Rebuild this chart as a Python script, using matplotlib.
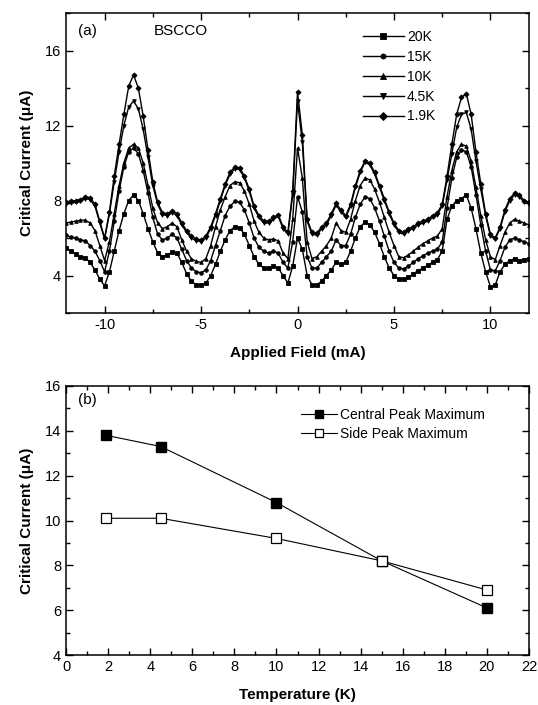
import numpy as np
import matplotlib
matplotlib.use("Agg")
import matplotlib.pyplot as plt
from matplotlib.ticker import MultipleLocator

plt.rcParams['font.family'] = ['Liberation Sans', 'DejaVu Sans']
plt.rcParams['axes.unicode_minus'] = False

# --- panel (a): critical current vs applied field ---
field = np.arange(-12, 12.001, 0.25)

ic_1p9K = [7.9, 7.95, 8.0, 8.05, 8.2, 8.15, 7.8, 6.9,
           6.0, 7.4, 9.3, 11.0, 12.6, 14.1, 14.7, 14.0,
           12.5, 10.7, 9.0, 7.9, 7.35, 7.3, 7.45, 7.3,
           6.8, 6.4, 6.1, 5.95, 5.9, 6.1, 6.6, 7.3,
           8.1, 8.9, 9.5, 9.8, 9.75, 9.3, 8.6, 7.7,
           7.2, 6.9, 6.9, 7.1, 7.25, 6.6, 6.3, 8.5,
           13.8, 11.5, 7.0, 6.3, 6.25, 6.6, 6.8, 7.3,
           7.85, 7.5, 7.2, 7.8, 8.8, 9.6, 10.1, 10.0,
           9.5, 8.8, 8.1, 7.4, 6.8, 6.4, 6.3, 6.5,
           6.6, 6.8, 6.9, 7.0, 7.2, 7.35, 7.8, 9.3,
           11.0, 12.6, 13.5, 13.7, 12.6, 10.6, 8.9, 7.3,
           6.2, 6.0, 6.6, 7.5, 8.1, 8.4, 8.3, 8.0,
           7.9]

ic_4p5K = [7.8, 7.85, 7.9, 7.95, 8.1, 8.05, 7.7, 6.8,
           5.95, 7.3, 9.0, 10.6, 12.0, 13.0, 13.3, 12.9,
           11.8, 10.3, 8.8, 7.8, 7.25, 7.2, 7.35, 7.2,
           6.7, 6.3, 6.0, 5.85, 5.8, 6.0, 6.5, 7.2,
           8.0, 8.8, 9.4, 9.7, 9.65, 9.2, 8.5, 7.6,
           7.1, 6.8, 6.8, 7.0, 7.15, 6.5, 6.2, 8.3,
           13.3, 11.1, 6.9, 6.2, 6.15, 6.5, 6.7, 7.2,
           7.75, 7.4, 7.1, 7.7, 8.7, 9.5, 10.05, 9.9,
           9.4, 8.7, 8.0, 7.3, 6.7, 6.3, 6.2, 6.4,
           6.5, 6.7, 6.8, 6.9, 7.1, 7.25, 7.7, 9.1,
           10.5, 11.9, 12.6, 12.7, 11.8, 10.1, 8.6, 7.2,
           6.1, 5.95, 6.5, 7.4, 8.0, 8.3, 8.2, 7.9,
           7.8]

ic_10K = [6.8, 6.85, 6.9, 6.95, 6.95, 6.8, 6.4, 5.6,
          4.8, 5.8, 7.3, 8.8, 10.0, 10.8, 11.0, 10.8,
          10.0, 8.8, 7.6, 6.8, 6.5, 6.6, 6.8, 6.6,
          5.9, 5.3, 4.9, 4.75, 4.7, 4.9, 5.6, 6.6,
          7.5, 8.2, 8.8, 9.0, 8.95, 8.5, 7.8, 6.9,
          6.3, 6.0, 5.9, 5.95, 5.85, 5.2, 4.9, 7.0,
          10.8, 9.2, 5.8, 4.9, 5.0, 5.3, 5.6, 6.0,
          6.8, 6.4, 6.3, 7.0, 8.0, 8.8, 9.2, 9.1,
          8.6, 7.9, 7.1, 6.3, 5.6, 5.0, 4.95, 5.1,
          5.3, 5.5, 5.7, 5.85, 6.0, 6.1, 6.5, 8.2,
          9.6, 10.6, 11.0, 10.9, 10.1, 8.7, 7.2, 5.9,
          5.0, 4.85, 5.6, 6.3, 6.8, 7.0, 6.9, 6.8,
          6.7]

ic_15K = [6.15, 6.05, 6.0, 5.9, 5.85, 5.6, 5.3, 4.8,
          4.2, 5.3, 6.9, 8.5, 9.8, 10.6, 10.8, 10.5,
          9.6, 8.4, 7.1, 6.2, 5.9, 6.0, 6.2, 6.0,
          5.4, 4.8, 4.4, 4.2, 4.15, 4.3, 4.8, 5.6,
          6.4, 7.2, 7.7, 7.95, 7.9, 7.5, 6.8, 6.0,
          5.5, 5.3, 5.2, 5.3, 5.2, 4.7, 4.4, 5.8,
          8.2, 7.4, 5.0, 4.4, 4.4, 4.7, 5.0, 5.3,
          5.9, 5.6, 5.6, 6.2, 7.1, 7.8, 8.2, 8.1,
          7.6, 6.9, 6.1, 5.3, 4.7, 4.4, 4.35, 4.5,
          4.7, 4.9, 5.05, 5.2, 5.3, 5.4, 5.8, 7.6,
          9.2, 10.3, 10.7, 10.6, 9.8, 8.3, 6.7, 5.3,
          4.3, 4.25, 4.8, 5.5, 5.9, 6.0, 5.9, 5.8,
          5.7]

ic_20K = [5.45, 5.3, 5.15, 5.0, 4.95, 4.7, 4.3, 3.8,
          3.45, 4.2, 5.3, 6.4, 7.3, 8.0, 8.3, 8.0,
          7.3, 6.5, 5.8, 5.2, 5.0, 5.1, 5.25, 5.2,
          4.7, 4.1, 3.7, 3.5, 3.5, 3.6, 4.0, 4.6,
          5.3, 5.9, 6.4, 6.6, 6.55, 6.2, 5.6, 5.0,
          4.6, 4.4, 4.4, 4.5, 4.4, 4.0, 3.6, 4.5,
          6.0, 5.4, 4.0, 3.5, 3.5, 3.7, 4.0, 4.3,
          4.7, 4.6, 4.7, 5.3, 6.0, 6.6, 6.85, 6.7,
          6.3, 5.7, 5.0, 4.4, 4.0, 3.8, 3.8, 3.9,
          4.1, 4.25, 4.4, 4.55, 4.7, 4.85, 5.3, 7.0,
          7.7, 8.0, 8.1, 8.3, 7.6, 6.5, 5.2, 4.2,
          3.4, 3.5, 4.2, 4.6, 4.8, 4.9, 4.8, 4.85,
          4.9]

curve_labels = ['20K', '15K', '10K', '4.5K', '1.9K']
curve_markers = ['s', 'o', '^', 'v', 'D']
curves = [ic_20K, ic_15K, ic_10K, ic_4p5K, ic_1p9K]

# --- panel (b): peak maxima vs temperature ---
temps = [1.9, 4.5, 10, 15, 20]
central_max = [13.8, 13.3, 10.8, 8.2, 6.1]
side_max = [10.1, 10.1, 9.2, 8.2, 6.9]

fig = plt.figure(figsize=(5.38, 7.05), dpi=100)
ax1 = fig.add_axes([0.1227, 0.556, 0.8606, 0.4255])
ax2 = fig.add_axes([0.1227, 0.0709, 0.8606, 0.3816])

for vals, lab, mk in zip(curves, curve_labels, curve_markers):
    ax1.plot(field, vals, color='black', lw=1.0, marker=mk, ms=2.6,
             mew=0.6, label=lab)

ax1.set_xlim(-12, 12)
ax1.set_ylim(2, 18)
ax1.xaxis.set_major_locator(MultipleLocator(5))
ax1.xaxis.set_minor_locator(MultipleLocator(2.5))
ax1.yaxis.set_major_locator(MultipleLocator(4))
ax1.yaxis.set_minor_locator(MultipleLocator(2))
ax1.set_xlabel('Applied Field (mA)', fontsize=11, fontweight='bold', labelpad=10)
ax1.set_ylabel('Critical Current (\u03bcA)', fontsize=11, fontweight='bold', labelpad=8)
ax1.text(0.025, 0.965, '(a)', transform=ax1.transAxes, fontsize=11, va='top')
ax1.text(0.19, 0.965, 'BSCCO', transform=ax1.transAxes, fontsize=11, va='top')
ax1.legend(loc='upper left', bbox_to_anchor=(0.615, 0.985), frameon=False,
           fontsize=10, handlelength=2.9, handletextpad=0.25,
           labelspacing=0.42, markerscale=1.4)

ax2.plot(temps, central_max, color='black', lw=0.8, marker='s', ms=7,
         mfc='black', mec='black', label='Central Peak Maximum')
ax2.plot(temps, side_max, color='black', lw=0.8, marker='s', ms=7,
         mfc='white', mec='black', mew=0.9, label='Side Peak Maximum')
ax2.set_xlim(0, 22)
ax2.set_ylim(4, 16)
ax2.xaxis.set_major_locator(MultipleLocator(2))
ax2.xaxis.set_minor_locator(MultipleLocator(1))
ax2.yaxis.set_major_locator(MultipleLocator(2))
ax2.yaxis.set_minor_locator(MultipleLocator(1))
ax2.set_xlabel('Temperature (K)', fontsize=11, fontweight='bold', labelpad=10)
ax2.set_ylabel('Critical Current (\u03bcA)', fontsize=11, fontweight='bold', labelpad=8)
ax2.text(0.025, 0.975, '(b)', transform=ax2.transAxes, fontsize=11, va='top')
ax2.legend(loc='upper left', bbox_to_anchor=(0.48, 0.965), frameon=False,
           fontsize=10, handlelength=2.6, handletextpad=0.25, labelspacing=0.35,
           markerscale=0.75)

for ax in (ax1, ax2):
    ax.tick_params(which='both', direction='in', top=True, right=True,
                   labelsize=10.5, width=1)
    ax.tick_params(which='major', length=5)
    ax.tick_params(which='minor', length=3)
    for sp in ax.spines.values():
        sp.set_linewidth(1.1)

fig.savefig('out.png', dpi=100)
